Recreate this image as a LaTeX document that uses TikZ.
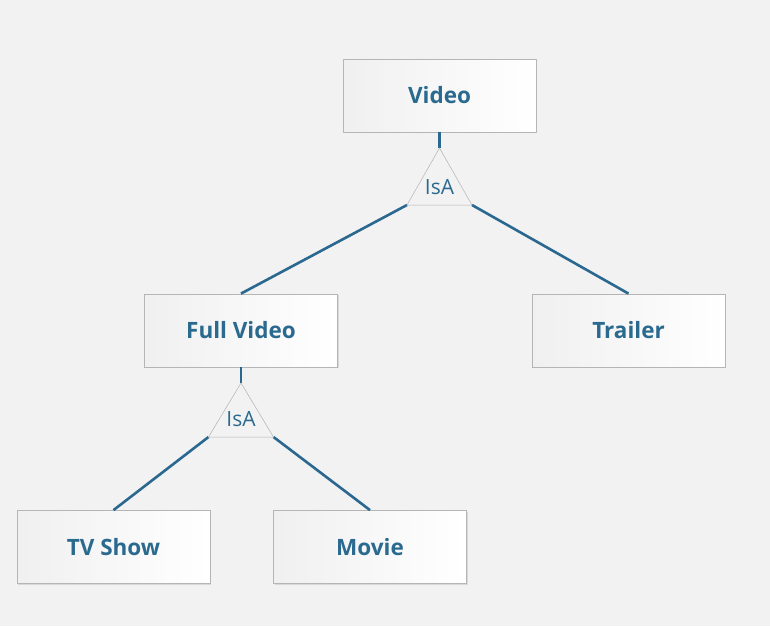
\documentclass[tikz,border=0pt]{standalone}
\usepackage{fontspec}
\setmainfont{Open Sans}
\usetikzlibrary{shadows}
\definecolor{bg}{HTML}{F2F2F2}
\definecolor{ink}{HTML}{2B6A8F}
\definecolor{edge}{HTML}{2A6890}
\definecolor{frame}{HTML}{B5B5B5}
\tikzset{
  entity/.style={draw=frame, line width=0.8pt, left color=black!6, right color=white,
    minimum width=193pt, minimum height=73pt, inner sep=0pt,
    font=\fontsize{22.5}{26}\selectfont\bfseries, text=ink,
    drop shadow={shadow xshift=1.2pt, shadow yshift=-1.2pt, fill=black!25, opacity=0.5}},
  isatri/.style={draw=black!30, line width=0.5pt, fill=white!95!black},
  isatext/.style={font=\fontsize{21}{24}\selectfont, text=ink, inner sep=0pt},
  link/.style={draw=edge, line width=2.6pt}
}
\begin{document}
\begin{tikzpicture}[x=1pt,y=-1pt]
\fill[bg] (0,0) rectangle (770,626);
\useasboundingbox (0,0) rectangle (770,626);

\node[entity] (video) at (439.5,95.5) {Video};
\node[entity] (full) at (241,330.5) {Full Video};
\node[entity] (trailer) at (628.5,330.5) {Trailer};
\node[entity] (tv) at (113.5,547) {TV Show};
\node[entity] (movie) at (370,547) {Movie};

% top IsA triangle
\coordinate (t1a) at (439.5,148);
\coordinate (t1l) at (407,205);
\coordinate (t1r) at (472,205);
\draw[link] (video.south) -- (t1a);
\draw[link] (t1l) -- (full.north);
\draw[link] (t1r) -- (trailer.north);
\filldraw[isatri] (t1a) -- (t1l) -- (t1r) -- cycle;
\node[isatext] (isa1) at (439.5,187) {IsA};

% lower IsA triangle
\coordinate (t2a) at (241,383);
\coordinate (t2l) at (208.5,437);
\coordinate (t2r) at (273.5,437);
\draw[link] (full.south) -- (t2a);
\draw[link] (t2l) -- (tv.north);
\draw[link] (t2r) -- (movie.north);
\filldraw[isatri] (t2a) -- (t2l) -- (t2r) -- cycle;
\node[isatext] (isa2) at (241,419) {IsA};
\end{tikzpicture}
\end{document}
